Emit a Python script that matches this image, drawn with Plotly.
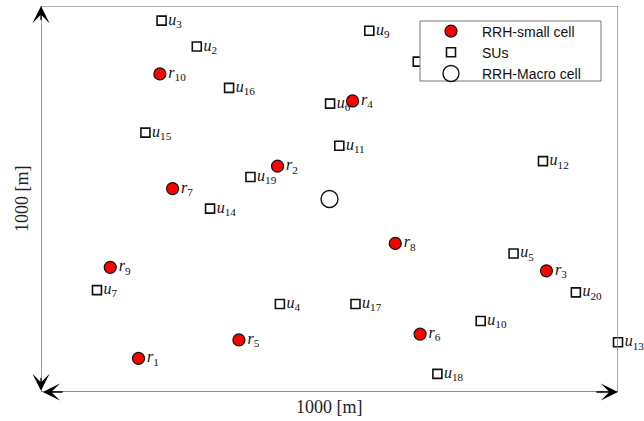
import plotly.graph_objects as go

# RRH small cells
rrh_id = [1, 2, 3, 4, 5, 6, 7, 8, 9, 10]
rrh_x = [169, 410, 876, 540, 343, 657, 228, 614, 120, 206]
rrh_y = [87, 585, 314, 754, 135, 150, 527, 385, 323, 824]

# Secondary users
su_id = [1, 2, 3, 4, 5, 6, 7, 9, 10, 11, 12, 13, 14, 15, 16, 17, 18, 19, 20]
su_x = [653, 270, 209, 414, 819, 501, 97, 569, 762, 517, 870, 1000, 293, 181, 326, 545, 687, 363, 927]
su_y = [856, 895, 962, 228, 359, 747, 264, 936, 184, 638, 598, 129, 475, 672, 788, 228, 47, 557, 258]

# Macro cell
macro_x = [500]
macro_y = [500]

side_label = "1000 [m]"

lab_font = dict(family="Liberation Serif, DejaVu Serif, serif", size=16, color="#111")

fig = go.Figure()
fig.add_trace(go.Scatter(
    x=su_x, y=su_y, mode="markers+text", name="SUs", legendrank=2,
    text=[f"<i>u</i><sub>{i}</sub>" for i in su_id], textposition="middle right",
    textfont=lab_font, cliponaxis=False,
    marker=dict(symbol="square-open", size=9, color="#111", line=dict(width=1.6, color="#111")),
))
fig.add_trace(go.Scatter(
    x=rrh_x, y=rrh_y, mode="markers+text", name="RRH-small cell", legendrank=1,
    text=[f"<i>r</i><sub>{i}</sub>" for i in rrh_id], textposition="middle right",
    textfont=lab_font, cliponaxis=False,
    marker=dict(symbol="circle", size=12, color="#ff0000", line=dict(width=1.2, color="#111")),
))
fig.add_trace(go.Scatter(
    x=macro_x, y=macro_y, mode="markers", name="RRH-Macro cell", legendrank=3,
    cliponaxis=False,
    marker=dict(symbol="circle", size=17, color="white", line=dict(width=1.4, color="#111")),
))

# frame lines
fig.add_shape(type="line", x0=0, y0=1000, x1=1000, y1=1000, line=dict(color="#999", width=1.5))
fig.add_shape(type="line", x0=1000, y0=0, x1=1000, y1=1000, line=dict(color="#888", width=1.5))
fig.add_shape(type="line", x0=0, y0=0, x1=0, y1=1000, line=dict(color="#666", width=1.3))
fig.add_shape(type="line", x0=0, y0=0, x1=1000, y1=0, line=dict(color="#666", width=1.3))

# legend box (drawn as a white panel over the plot; legend entries sit on it)
fig.add_shape(type="rect", xref="paper", yref="paper",
              x0=(420 - 41) / 577, x1=(601 - 41) / 577,
              y0=(392 - 81) / 386, y1=(392 - 21) / 386,
              fillcolor="white", line=dict(color="#777", width=1), layer="above")

# arrowheads
heads = [(0, 1000, 0, 960), (0, 3, 0, 40), (3, 0, 40, 0), (1000, 0, 960, 0)]
for (hx, hy, tx, ty) in heads:
    fig.add_annotation(x=hx, y=hy, ax=tx, ay=ty, xref="x", yref="y", axref="x", ayref="y",
                       text="", showarrow=True, arrowhead=3, arrowsize=2.2, arrowwidth=1.3,
                       arrowcolor="#000")

ax_font = dict(family="Liberation Serif, DejaVu Serif, serif", size=18, color="#222")
fig.add_annotation(x=0.5, y=-15 / 386, xref="paper", yref="paper", text=side_label,
                   showarrow=False, font=ax_font, yanchor="middle")
fig.add_annotation(x=-19 / 577, y=0.5, xref="paper", yref="paper", text=side_label,
                   showarrow=False, font=ax_font, textangle=-90, xanchor="center")

fig.update_xaxes(range=[0, 1000], visible=False, showgrid=False, zeroline=False)
fig.update_yaxes(range=[0, 1000], visible=False, showgrid=False, zeroline=False)
fig.update_layout(
    width=644, height=421,
    margin=dict(l=41, r=26, t=6, b=29),
    plot_bgcolor="white", paper_bgcolor="white",
    legend=dict(x=(420 - 41) / 577, y=(392 - 15.5) / 386, xanchor="left", yanchor="top",
                bgcolor="rgba(0,0,0,0)", borderwidth=0,
                font=dict(family="Liberation Sans, Arial, sans-serif", size=14, color="#111"),
                itemwidth=52, tracegroupgap=0),
    showlegend=True,
)
fig.write_html("out.html")
